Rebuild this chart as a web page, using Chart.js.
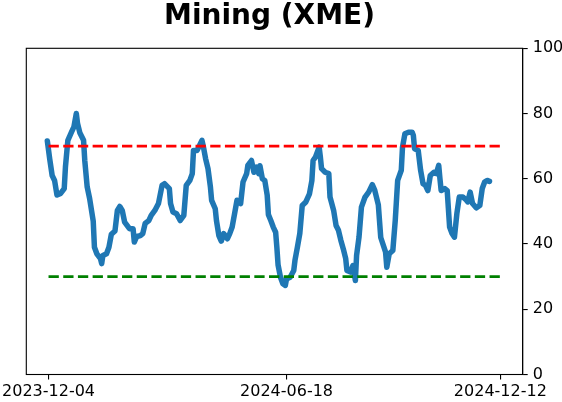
<!DOCTYPE html>
<html><head><meta charset="utf-8">
<script src="https://cdn.jsdelivr.net/npm/chart.js@4"></script>
<style>html,body{margin:0;padding:0;background:#fff}#wrap{width:562px;height:402px}</style>
</head><body><div id="wrap"><canvas id="c" width="562" height="402"></canvas></div>
<script>
const titleText = 'Mining (XME)';
// day offsets from 2023-12-04
const tickDays = [0, 197, 374];
const tickLabels = ['2023-12-04', '2024-06-18', '2024-12-12'];
const days = [-1,1,3,5,7,10,13,14,16,19,21,23,24,26,29,30,32,34,37,38,40,43,44,45,48,50,52,55,57,59,61,63,65,67,70,71,73,76,78,80,83,85,88,91,94,96,100,101,103,106,109,112,114,117,119,120,123,125,127,128,130,132,134,135,138,139,141,143,145,148,150,152,154,156,159,161,164,165,168,170,172,174,175,177,179,181,182,184,186,188,189,190,192,194,196,197,200,203,204,206,208,210,213,216,218,219,221,223,224,225,226,229,232,233,236,238,240,242,244,246,247,250,252,254,255,257,259,262,265,268,270,273,275,279,280,282,285,287,289,292,293,295,298,301,302,303,306,308,310,312,314,316,319,321,323,324,325,328,330,332,334,336,338,340,343,346,347,349,351,354,357,359,361,363,365];
const values = [71.6,66,61,59.5,55,55.5,57,63.6,71.8,74.3,75.9,80,77,74,71.8,65.6,57.5,54,47,39,37,35.5,34,36.5,37,39,43,44,50.3,51.5,50.3,46.7,45.7,44.7,44.7,40.6,42.3,42.6,43.2,46.3,47.2,48.8,50.3,52.4,58,58.5,57,52.4,49.8,49.3,47.2,48.8,58,59.5,61.6,68.7,68.7,70.2,71.8,70.2,66.2,63.1,57.5,53.4,50.8,47.2,42.6,40.9,43.2,41.6,43.2,45.2,49.3,53.4,52.4,59,61.6,64.1,65.6,62,63.6,61.6,64,60,59.5,55,49,47.2,45.2,43.6,39,33.6,29.8,27.8,27.3,29.3,29.8,31.9,35,39,43.2,51.8,52.9,55.4,59.5,65.6,66.7,68.7,69.7,66.7,63.1,62,61.6,54.4,50.3,45.7,44.2,41.1,38.5,35.5,31.9,31.4,33.4,28.8,36.5,42.1,51.3,54.4,55.9,58.2,56.5,52,42,37.5,32.9,37,38,47.2,59.5,62.6,69.7,73.8,74.3,74.3,73.3,69.2,68.7,62.6,58.5,58,56.4,61,62,61.6,64.1,60,56.4,57,56.4,45.2,43.2,42.1,49.3,54.4,54.4,53.4,52.9,55.9,52.4,51.1,51.8,57,59,59.5,59.2];
const upperLevel = 70;
const lowerLevel = 30;
const levelSpan = [0, 374];
const yTicks = [0, 20, 40, 60, 80, 100];

const series = days.map((d, i) => ({x: d, y: values[i]}));

const framePlugin = {
  id: 'frame',
  afterDraw(chart) {
    const a = chart.chartArea, ctx = chart.ctx;
    ctx.save();
    ctx.strokeStyle = '#000';
    ctx.lineWidth = 1.1;
    ctx.strokeRect(a.left, a.top, a.right - a.left, a.bottom - a.top);
    ctx.restore();
  }
};
const titlePlugin = {
  id: 'mtitle',
  afterDraw(chart) {
    const ctx = chart.ctx;
    ctx.save();
    ctx.font = 'bold 28px "DejaVu Sans"';
    ctx.fillStyle = '#000';
    ctx.textAlign = 'center';
    ctx.textBaseline = 'alphabetic';
    ctx.fillText(titleText, 269.5, 24);
    ctx.restore();
  }
};

const tickFont = {family: 'DejaVu Sans', size: 16};

new Chart(document.getElementById('c'), {
  type: 'line',
  data: {
    datasets: [
      {data: levelSpan.map(d => ({x: d, y: upperLevel})), borderColor: '#ff0000', borderWidth: 2.8, borderDash: [10.3, 4.4], pointRadius: 0, order: 1},
      {data: levelSpan.map(d => ({x: d, y: lowerLevel})), borderColor: '#008000', borderWidth: 2.8, borderDash: [10.3, 4.4], pointRadius: 0, order: 1},
      {data: series, borderColor: '#1f77b4', borderWidth: 5.5, pointRadius: 0, borderCapStyle: 'round', borderJoinStyle: 'round', tension: 0, order: 2}
    ]
  },
  options: {
    responsive: false,
    animation: false,
    layout: {padding: {left: 26.3, top: 48.3, right: 0, bottom: 0}},
    plugins: {legend: {display: false}, tooltip: {enabled: false}, title: {display: false}},
    scales: {
      x: {
        type: 'linear', min: -18.4, max: 392.5,
        afterBuildTicks: s => { s.ticks = tickDays.map(v => ({value: v})); },
        ticks: {callback: (v, i) => tickLabels[i], font: tickFont, color: '#000', padding: 3, maxRotation: 0, autoSkip: false},
        grid: {drawOnChartArea: false, drawTicks: true, tickLength: 5, color: '#000', lineWidth: 1.1},
        border: {display: true, color: '#000', width: 1.1},
        afterFit: s => { s.height = 27.5; s.paddingLeft = 0; s.paddingRight = 0; }
      },
      y: {
        position: 'right', min: 0, max: 100,
        afterBuildTicks: s => { s.ticks = yTicks.map(v => ({value: v})); },
        ticks: {font: tickFont, color: '#000', padding: 5},
        grid: {drawOnChartArea: false, drawTicks: true, tickLength: 5, color: '#000', lineWidth: 1.1},
        border: {display: true, color: '#000', width: 1.1},
        afterFit: s => { s.width = 39.3; s.paddingTop = 0; s.paddingBottom = 0; }
      }
    }
  },
  plugins: [framePlugin, titlePlugin]
});
</script>
</body></html>
